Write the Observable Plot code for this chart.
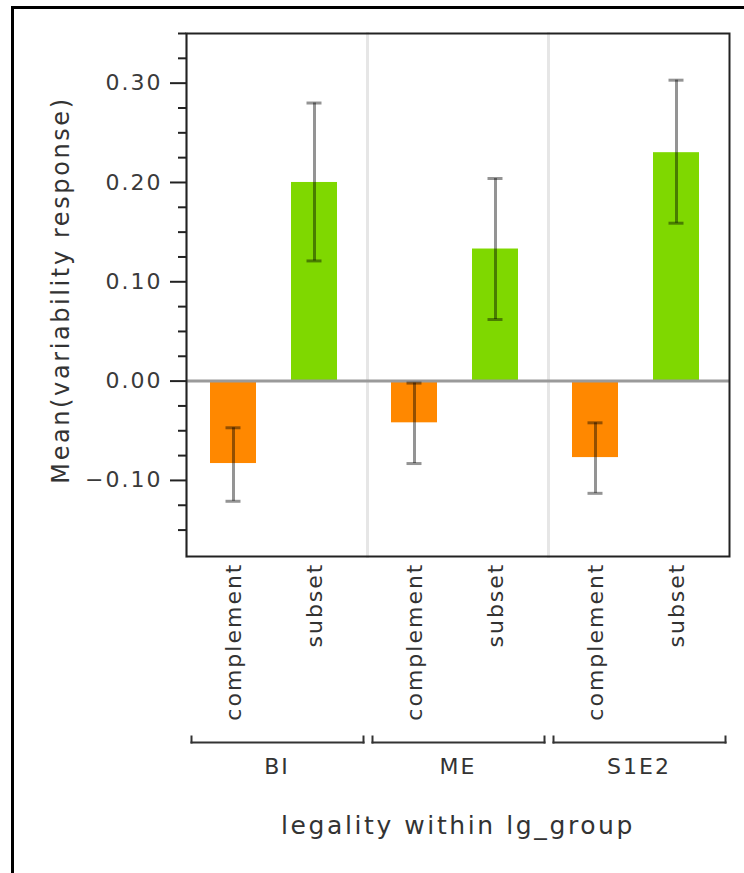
<!DOCTYPE html>
<html><head><meta charset="utf-8">
<script src="https://cdn.jsdelivr.net/npm/d3@7"></script>
<script src="https://cdn.jsdelivr.net/npm/@observablehq/plot@0.6"></script>
<style>
body{margin:0;background:#fff;}
#wrap{position:relative;width:744px;height:873px;overflow:hidden;background:#fff;}
#border{position:absolute;left:11px;top:6px;width:800px;height:900px;border-left:3px solid #000;border-top:3px solid #000;}
#chart{position:absolute;left:0;top:0;}
svg text{font-family:"DejaVu Sans",sans-serif;}
g[aria-label="y-axis tick label"] text,
g[aria-label="x-axis tick label"] text,
g[aria-label="fx-axis tick label"] text{letter-spacing:2px;}
g.title text{letter-spacing:2.6px;}
</style></head><body>
<div id="wrap"><div id="border"></div><div id="chart"></div></div>
<script>
const groups = ["BI", "ME", "S1E2"];
const legalities = ["complement", "subset"];
const rowGroup = ["BI", "BI", "ME", "ME", "S1E2", "S1E2"];
const rowLegality = ["complement", "subset", "complement", "subset", "complement", "subset"];
const means = [-0.083, 0.200, -0.042, 0.133, -0.077, 0.230];
const errLow = [-0.121, 0.121, -0.083, 0.062, -0.113, 0.159];
const errHigh = [-0.047, 0.280, -0.002, 0.204, -0.042, 0.303];
const yMajorTicks = [-0.10, 0.00, 0.10, 0.20, 0.30];
const yMinorTicks = [-0.15, -0.125, -0.075, -0.05, -0.025, 0.025, 0.05, 0.075, 0.125, 0.15, 0.175, 0.225, 0.25, 0.275, 0.325, 0.35];
const barColors = ["#FF8800", "#7FD800"];
const xTitle = "legality within lg_group";
const yTitle = "Mean(variability response)";

const data = means.map((m, i) => ({group: rowGroup[i], legality: rowLegality[i], mean: m, lo: errLow[i], hi: errHigh[i]}));

const chart = Plot.plot({
  width: 744, height: 873,
  marginLeft: 185, marginRight: 14, marginTop: 33, marginBottom: 317,
  style: {background: "transparent", fontFamily: "DejaVu Sans", overflow: "visible"},
  fx: {domain: groups, padding: 0},
  x: {domain: legalities, paddingInner: 0.427, paddingOuter: 0.321, align: 0.44},
  y: {domain: [-0.1766, 0.35]},
  color: {domain: legalities, range: barColors},
  marks: [
    Plot.frame({anchor: "left", stroke: "#e6e6e6", strokeWidth: 3}),
    Plot.barY(data, {fx: "group", x: "legality", y: "mean", fill: "legality"}),
    Plot.ruleY([0], {stroke: "#9a9a9a", strokeWidth: 3}),
    Plot.ruleX(data, {fx: "group", x: "legality", y1: "lo", y2: "hi", stroke: "#000", strokeOpacity: 0.42, strokeWidth: 3}),
    Plot.tickY(data, {fx: "group", x: "legality", y: "lo", insetLeft: 15.5, insetRight: 15.5, stroke: "#000", strokeOpacity: 0.42, strokeWidth: 3}),
    Plot.tickY(data, {fx: "group", x: "legality", y: "hi", insetLeft: 15.5, insetRight: 15.5, stroke: "#000", strokeOpacity: 0.42, strokeWidth: 3}),
    Plot.frame({facet: "super", stroke: "#222", strokeWidth: 2}),
    Plot.axisY({ticks: yMajorTicks, tickSize: 16, tickPadding: 8, tickFormat: d3.format(".2f"), fontSize: 22, label: null, stroke: "#222", strokeWidth: 2, color: "#3a3a3a"}),
    Plot.axisY({ticks: yMinorTicks, tickSize: 8, tickFormat: () => "", label: null, stroke: "#222", strokeWidth: 2}),
    Plot.axisX({tickRotate: -90, tickSize: 0, tickPadding: 6, fontSize: 22, label: null, color: "#333"}),
    Plot.axisFx({anchor: "bottom", tickSize: 0, tickPadding: 202, fontSize: 22, label: null, color: "#333"}),
    Plot.frame({anchor: "bottom", dy: 186, insetLeft: 5, insetRight: 4, stroke: "#333", strokeWidth: 2}),
    Plot.frame({anchor: "left", dy: 186, insetLeft: 5, insetTop: 517, stroke: "#333", strokeWidth: 2}),
    Plot.frame({anchor: "right", dy: 186, insetRight: 4, insetTop: 517, stroke: "#333", strokeWidth: 2}),
    Plot.text([xTitle], {facet: "super", text: d => d, frameAnchor: "bottom", dy: 277, fontSize: 25, fill: "#333", className: "title"}),
    Plot.text([yTitle], {facet: "super", text: d => d, frameAnchor: "left", dx: -125, dy: -5, rotate: -90, textAnchor: "middle", fontSize: 24, fill: "#333", className: "title"})
  ]
});
document.getElementById("chart").append(chart);
</script>
</body></html>
